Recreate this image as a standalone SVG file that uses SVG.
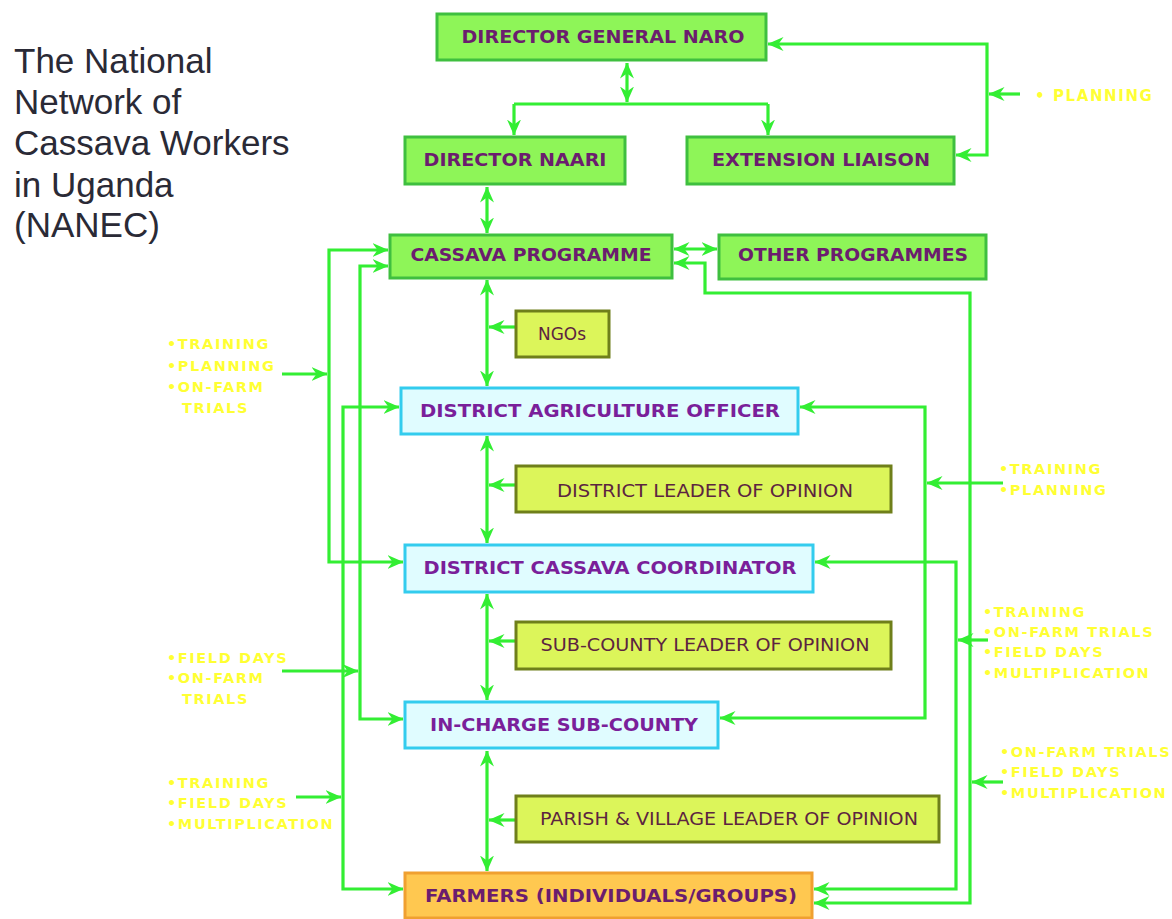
<svg xmlns="http://www.w3.org/2000/svg" width="1172" height="919" viewBox="0 0 1172 919">
<style>
.bg{fill:#ffffff}
.g{fill:#8ef558;stroke:#3fbf3f;stroke-width:3}
.c{fill:#e0fcff;stroke:#33ccee;stroke-width:3}
.y{fill:#dcf55a;stroke:#6f7f1a;stroke-width:3}
.o{fill:#ffc850;stroke:#f0a030;stroke-width:3}
.tg{font-family:"DejaVu Sans",Verdana,sans-serif;font-weight:bold;font-size:17px;fill:#6b1d6e;text-anchor:middle}
.tc{font-family:"DejaVu Sans",Verdana,sans-serif;font-weight:bold;font-size:17px;fill:#7a1f9a;text-anchor:middle}
.ty{font-family:"DejaVu Sans",Verdana,sans-serif;font-size:17px;fill:#5c2440;text-anchor:middle}
.lb{font-family:"DejaVu Sans",Verdana,sans-serif;font-weight:bold;font-size:14.5px;fill:#ffff33;letter-spacing:1.6px}
.title{font-family:"Liberation Sans",Arial,sans-serif;font-size:35px;fill:#2a2a36}
.ln{fill:none;stroke:#33ee33;stroke-width:3.2;stroke-linejoin:miter}
.ln2{fill:none;stroke:#33ee33;stroke-width:3.2;marker-end:url(#ah)}
.ln3{fill:none;stroke:#33ee33;stroke-width:3.2;marker-start:url(#ah);marker-end:url(#ah)}
</style>
<defs>
<marker id="ah" viewBox="0 0 16 14" refX="15.5" refY="7" markerWidth="16" markerHeight="14" markerUnits="userSpaceOnUse" orient="auto-start-reverse">
<path d="M0,0 L16,7 L0,14 L5,7 z" fill="#33ee33"/>
</marker>
</defs>
<rect class="bg" x="0" y="0" width="1172" height="919"/>

<g id="title">
<text class="title" x="14" y="73">The National</text>
<text class="title" x="14" y="114">Network of</text>
<text class="title" x="14" y="155">Cassava Workers</text>
<text class="title" x="14" y="197">in Uganda</text>
<text class="title" x="14" y="237">(NANEC)</text>
</g>

<g id="connectors">
<path class="ln3" d="M627,63 L627,102"/>
<path class="ln" d="M514,104 L768,104"/>
<path class="ln2" d="M514,104 L514,135"/>
<path class="ln2" d="M768,104 L768,135"/>
<path class="ln3" d="M768,44 L987,44 L987,155 L956,155"/>
<path class="ln2" d="M1020,94 L989,94"/>
<path class="ln3" d="M487,187 L487,233"/>
<path class="ln3" d="M674,249 L717,249"/>
<path class="ln3" d="M487,280 L487,386"/>
<path class="ln2" d="M516,327 L489,327"/>
<path class="ln3" d="M487,436 L487,543"/>
<path class="ln2" d="M516,485 L489,485"/>
<path class="ln3" d="M487,594 L487,700"/>
<path class="ln2" d="M516,641 L489,641"/>
<path class="ln3" d="M487,751 L487,871"/>
<path class="ln2" d="M516,820 L489,820"/>
<path class="ln3" d="M388,250 L329,250 L329,562 L403,562"/>
<path class="ln3" d="M388,266 L360,266 L360,719 L403,719"/>
<path class="ln3" d="M399,407 L343,407 L343,889 L403,889"/>
<path class="ln2" d="M282,374 L327,374"/>
<path class="ln2" d="M282,671 L358,671"/>
<path class="ln2" d="M296,797 L341,797"/>
<path class="ln3" d="M800,407 L925,407 L925,718 L720,718"/>
<path class="ln3" d="M815,562 L956,562 L956,889 L814,889"/>
<path class="ln3" d="M674,263 L705,263 L705,293 L970,293 L970,903 L814,903"/>
<path class="ln2" d="M1003,483 L927,483"/>
<path class="ln2" d="M988,640 L958,640"/>
<path class="ln2" d="M1003,782 L972,782"/>
</g>

<g id="dg"><rect class="g" x="437" y="14" width="329" height="46"/><text class="tg" x="603" y="43" textLength="283" lengthAdjust="spacingAndGlyphs">DIRECTOR GENERAL NARO</text></g>
<g id="naari"><rect class="g" x="405" y="137" width="220" height="47"/><text class="tg" x="515" y="166" textLength="183" lengthAdjust="spacingAndGlyphs">DIRECTOR NAARI</text></g>
<g id="extension"><rect class="g" x="687" y="137" width="267" height="47"/><text class="tg" x="821" y="166" textLength="218" lengthAdjust="spacingAndGlyphs">EXTENSION LIAISON</text></g>
<g id="cassava"><rect class="g" x="390" y="235" width="282" height="43"/><text class="tg" x="531" y="261" textLength="241" lengthAdjust="spacingAndGlyphs">CASSAVA PROGRAMME</text></g>
<g id="other"><rect class="g" x="719" y="235" width="267" height="44"/><text class="tg" x="853" y="261" textLength="230" lengthAdjust="spacingAndGlyphs">OTHER PROGRAMMES</text></g>
<g id="ngos"><rect class="y" x="516" y="311" width="93" height="46"/><text class="ty" x="562" y="340" textLength="48" lengthAdjust="spacingAndGlyphs">NGOs</text></g>
<g id="dao"><rect class="c" x="401" y="388" width="397" height="46"/><text class="tc" x="600" y="417" textLength="360" lengthAdjust="spacingAndGlyphs">DISTRICT AGRICULTURE OFFICER</text></g>
<g id="dlo"><rect class="y" x="516" y="466" width="375" height="46"/><text class="ty" x="705" y="497" textLength="296" lengthAdjust="spacingAndGlyphs">DISTRICT LEADER OF OPINION</text></g>
<g id="dcc"><rect class="c" x="405" y="545" width="408" height="47"/><text class="tc" x="610" y="574" textLength="373" lengthAdjust="spacingAndGlyphs">DISTRICT CASSAVA COORDINATOR</text></g>
<g id="slo"><rect class="y" x="516" y="622" width="375" height="47"/><text class="ty" x="705" y="651" textLength="329" lengthAdjust="spacingAndGlyphs">SUB-COUNTY LEADER OF OPINION</text></g>
<g id="ics"><rect class="c" x="405" y="702" width="313" height="46"/><text class="tc" x="564" y="731" textLength="268" lengthAdjust="spacingAndGlyphs">IN-CHARGE SUB-COUNTY</text></g>
<g id="pvlo"><rect class="y" x="516" y="796" width="423" height="46"/><text class="ty" x="729" y="825" textLength="378" lengthAdjust="spacingAndGlyphs">PARISH &amp; VILLAGE LEADER OF OPINION</text></g>
<g id="farmers"><rect class="o" x="405" y="873" width="407" height="45"/><text class="tg" x="611" y="902" textLength="372" lengthAdjust="spacingAndGlyphs">FARMERS (INDIVIDUALS/GROUPS)</text></g>

<g id="labels">
<text class="lb" x="1035" y="101" style="font-size:15px">• PLANNING</text>
<text class="lb" x="167" y="349">•TRAINING</text>
<text class="lb" x="167" y="371">•PLANNING</text>
<text class="lb" x="167" y="392">•ON-FARM</text>
<text class="lb" x="182" y="413">TRIALS</text>
<text class="lb" x="999" y="474">•TRAINING</text>
<text class="lb" x="999" y="495">•PLANNING</text>
<text class="lb" x="983" y="617">•TRAINING</text>
<text class="lb" x="983" y="637">•ON-FARM TRIALS</text>
<text class="lb" x="983" y="657">•FIELD DAYS</text>
<text class="lb" x="983" y="678">•MULTIPLICATION</text>
<text class="lb" x="167" y="663">•FIELD DAYS</text>
<text class="lb" x="167" y="683">•ON-FARM</text>
<text class="lb" x="182" y="704">TRIALS</text>
<text class="lb" x="1000" y="757">•ON-FARM TRIALS</text>
<text class="lb" x="1000" y="777">•FIELD DAYS</text>
<text class="lb" x="1000" y="798">•MULTIPLICATION</text>
<text class="lb" x="167" y="788">•TRAINING</text>
<text class="lb" x="167" y="808">•FIELD DAYS</text>
<text class="lb" x="167" y="829">•MULTIPLICATION</text>
</g>
</svg>
